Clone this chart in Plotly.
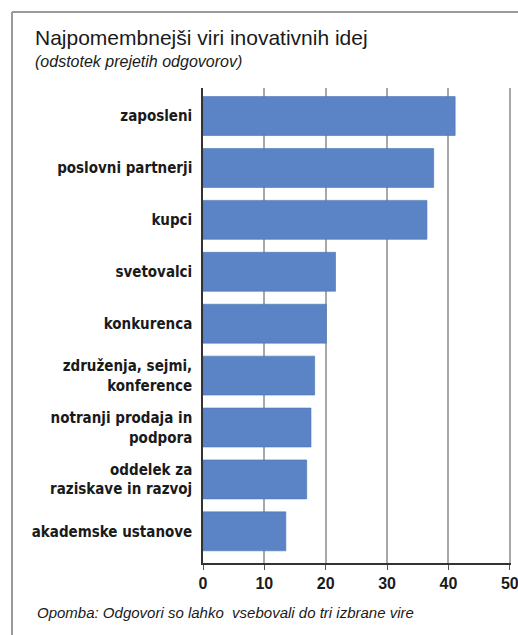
import plotly.graph_objects as go

# Sources of innovative ideas (share of responses, %)
categories = [
    "zaposleni",
    "poslovni partnerji",
    "kupci",
    "svetovalci",
    "konkurenca",
    "združenja, sejmi,<br>konference",
    "notranji prodaja in<br>podpora",
    "oddelek za<br>raziskave in razvoj",
    "akademske ustanove",
]
values = [41.1, 37.6, 36.5, 21.6, 20.1, 18.2, 17.6, 16.9, 13.5]
x_ticks = [0, 10, 20, 30, 40, 50]

title_text = "Najpomembnejši viri inovativnih idej"
subtitle_text = "(odstotek prejetih odgovorov)"
note_text = "Opomba: Odgovori so lahko  vsebovali do tri izbrane vire"

W, H = 518, 635
L, R, T, B = 203, 7, 88, 72
pw, ph = W - L - R, H - T - B


def px(x):
    return (x - L) / pw


def py(y):
    return (H - B - y) / ph


fig = go.Figure(
    go.Bar(
        x=values,
        y=list(range(len(categories))),
        orientation="h",
        width=0.75,
        marker=dict(color="#5b84c6", line=dict(color="#4a73b3", width=0.6)),
        hoverinfo="x",
    )
)

fig.update_layout(
    width=W,
    height=H,
    margin=dict(l=L, r=R, t=T, b=B, autoexpand=False),
    paper_bgcolor="white",
    plot_bgcolor="white",
    showlegend=False,
    font=dict(family="Liberation Sans, Arial, sans-serif", color="#1a1a1a"),
    xaxis=dict(
        range=[0, 50.2],
        tickvals=x_ticks,
        ticktext=[str(v) for v in x_ticks],
        showgrid=True,
        gridcolor="#a8a8a8",
        gridwidth=1.5,
        showline=True,
        linecolor="#333333",
        linewidth=1.5,
        ticks="outside",
        ticklen=5,
        tickcolor="#555555",
        ticklabeloverflow="allow",
        automargin=False,
        tickfont=dict(size=16, family="Liberation Sans, Arial", color="#1a1a1a", weight="bold"),
        zeroline=False,
        fixedrange=True,
    ),
    yaxis=dict(
        range=[8.61, -0.54],
        tickvals=list(range(len(categories))),
        ticktext=categories,
        showgrid=False,
        showline=True,
        linecolor="#333333",
        linewidth=1.5,
        ticks="",
        ticklabelstandoff=6,
        automargin=False,
        tickfont=dict(size=15, family="DejaVu Sans Condensed", color="#1a1a1a", weight="bold"),
        zeroline=False,
        fixedrange=True,
    ),
    annotations=[
        dict(text=title_text, xref="paper", yref="paper", x=px(33), y=py(37),
             xanchor="left", yanchor="middle", showarrow=False,
             font=dict(size=21, family="Liberation Sans, Arial", color="#1a1a1a")),
        dict(text="<i>" + subtitle_text + "</i>", xref="paper", yref="paper", x=px(33), y=py(62),
             xanchor="left", yanchor="middle", showarrow=False,
             font=dict(size=16, family="Liberation Sans, Arial", color="#1a1a1a")),
        dict(text="<i>" + note_text + "</i>", xref="paper", yref="paper", x=px(35), y=py(612),
             xanchor="left", yanchor="middle", showarrow=False,
             font=dict(size=15, family="Liberation Sans, Arial", color="#1a1a1a")),
    ],
    shapes=[
        # outer frame: top and left edges
        dict(type="line", xref="paper", yref="paper", x0=px(12), x1=px(530), y0=py(12), y1=py(12),
             line=dict(color="#9a9a9a", width=2)),
        dict(type="line", xref="paper", yref="paper", x0=px(12), x1=px(12), y0=py(12), y1=py(640),
             line=dict(color="#9a9a9a", width=2)),
    ],
)

fig.write_html("out.html")
